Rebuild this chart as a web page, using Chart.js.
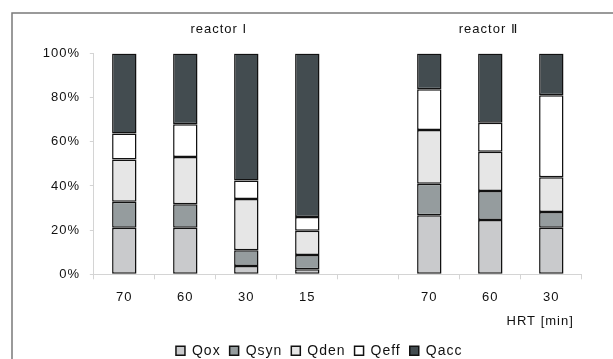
<!DOCTYPE html>
<html>
<head>
<meta charset="utf-8">
<script src="https://cdn.jsdelivr.net/npm/chart.js@4.4.1/dist/chart.umd.min.js"></script>
<style>
html,body{margin:0;padding:0;background:#fff;}
#wrap{position:relative;width:613px;height:359px;}
</style>
</head>
<body>
<div id="wrap"><canvas id="c" width="613" height="359"></canvas></div>
<script>
const categories = ['70', '60', '30', '15', '', '70', '60', '30'];
const groupLabels = ['reactor I', 'reactor Ⅱ'];
const axisTitle = 'HRT [min]';
const yTicks = [0, 20, 40, 60, 80, 100];

const Qox  = [21.1, 21.1, 3.8, 2.3, null, 26.7, 24.6, 21.1];
const Qsyn = [11.8, 10.6, 7.1, 6.4, null, 14.3, 13.1, 7.1];
const Qden = [19.1, 21.4, 23.2, 11.0, null, 24.4, 17.8, 15.8];
const Qeff = [11.8, 14.9, 8.4, 6.2, null, 18.4, 13.1, 37.1];
const Qacc = [36.2, 32.0, 57.5, 74.1, null, 16.2, 31.4, 18.9];

const seriesNames = ['Qox', 'Qsyn', 'Qden', 'Qeff', 'Qacc'];
const seriesData = [Qox, Qsyn, Qden, Qeff, Qacc];
const seriesColors = ['#c9cacc', '#959c9e', '#e6e6e6', '#ffffff', '#434c50'];

const FONT = 'Liberation Sans, Arial, sans-serif';
const SPACING = '1px';
const TEXT = '#111';

const spacingPlugin = {
  id: 'spacing',
  beforeLayout(chart) { chart.ctx.letterSpacing = SPACING; },
  beforeDraw(chart) {
    const ctx = chart.ctx;
    ctx.letterSpacing = SPACING;
    ctx.save();
    ctx.strokeStyle = '#7a7a7a';
    ctx.lineWidth = 1.5;
    ctx.strokeRect(12, 13, 700, 700);
    ctx.restore();
  },
  afterDraw(chart) {
    const ctx = chart.ctx;
    const x = chart.scales.x;
    const area = chart.chartArea;
    ctx.save();
    ctx.letterSpacing = SPACING;
    ctx.fillStyle = TEXT;
    ctx.font = '13px ' + FONT;
    ctx.textBaseline = 'middle';
    ctx.textAlign = 'center';
    ctx.fillText(groupLabels[0], x.getPixelForValue(1.5) + 3, 29.5);
    ctx.fillText(groupLabels[1], x.getPixelForValue(6) - 2, 29.5);
    ctx.textAlign = 'right';
    ctx.fillText(axisTitle, area.right - 8, 321);
    ctx.restore();
  }
};

new Chart(document.getElementById('c'), {
  type: 'bar',
  data: {
    labels: categories,
    datasets: seriesNames.map((n, i) => ({
      label: n,
      data: seriesData[i],
      backgroundColor: seriesColors[i],
      borderColor: '#111111',
      borderWidth: 1.5,
      borderSkipped: false,
      barPercentage: 0.4,
      categoryPercentage: 1.0
    }))
  },
  options: {
    responsive: false,
    animation: false,
    devicePixelRatio: 1,
    layout: { padding: { left: 25.4, right: 0, top: 53.5, bottom: 0 } },
    plugins: {
      legend: {
        position: 'bottom',
        maxHeight: 24.3,
        labels: {
          boxWidth: 9, boxHeight: 9, padding: 9,
          color: TEXT,
          font: { family: FONT, size: 14 }
        }
      },
      tooltip: { enabled: false }
    },
    scales: {
      x: {
        stacked: true,
        grid: { drawOnChartArea: false, tickLength: 5, color: '#d4d4d4', offset: true },
        border: { color: '#d4d4d4' },
        ticks: { color: TEXT, font: { family: FONT, size: 13 }, padding: 10 },
        afterFit(s) { s.height = 60.4; }
      },
      y: {
        stacked: true,
        min: 0, max: 100,
        afterBuildTicks(s) { s.ticks = yTicks.map(v => ({ value: v })); },
        grid: { drawOnChartArea: false, tickLength: 4, color: '#d4d4d4' },
        border: { color: '#d4d4d4' },
        ticks: { color: TEXT, font: { family: FONT, size: 13 }, padding: 9.8,
                 callback: v => v + '%' },
        afterFit(s) { s.width = 68.4; }
      },
      y2: {
        position: 'right',
        display: true,
        grid: { display: false },
        border: { display: false },
        ticks: { display: false },
        afterFit(s) { s.width = 31.2; }
      }
    }
  },
  plugins: [spacingPlugin]
});
</script>
</body>
</html>
